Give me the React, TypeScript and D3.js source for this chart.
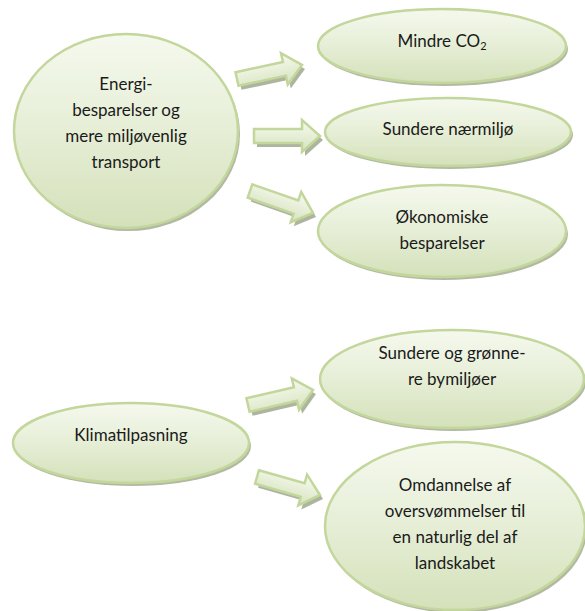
import React from "react";
import * as d3 from "d3";

// Node labels (lines of text)
const nodeLabels: string[][] = [
  ["Energi-", "besparelser og", "mere miljøvenlig", "transport"],
  ["Mindre CO|2"],
  ["Sundere nærmiljø"],
  ["Økonomiske", "besparelser"],
  ["Klimatilpasning"],
  ["Sundere og grønne-", "re bymiljøer"],
  ["Omdannelse af", "oversvømmelser til", "en naturlig del af", "landskabet"],
];

// Which node each arrow links from -> to
const arrowLinks: [number, number][] = [
  [0, 1],
  [0, 2],
  [0, 3],
  [4, 5],
  [4, 6],
];

// Layout (pixel geometry)
const nodeLayout = [
  { cx: 126, cy: 131, rx: 112, ry: 97, ty: 90 },
  { cx: 442, cy: 46, rx: 124, ry: 37, ty: 47 },
  { cx: 448, cy: 132, rx: 123, ry: 34, ty: 135 },
  { cx: 442, cy: 231, rx: 124, ry: 46, ty: 223 },
  { cx: 131, cy: 443, rx: 118, ry: 40, ty: 441 },
  { cx: 452, cy: 379, rx: 132, ry: 49, ty: 359 },
  { cx: 455, cy: 526, rx: 130, ry: 84, ty: 491 },
];
const arrowLayout = [
  { x0: 237, y0: 79, x1: 302, y1: 65 },
  { x0: 254, y0: 136, x1: 320, y1: 136 },
  { x0: 250, y0: 191, x1: 313, y1: 213 },
  { x0: 248, y0: 405, x1: 313, y1: 390 },
  { x0: 257, y0: 477, x1: 320, y1: 495 },
];

const LINE_H = 26;
const FONT_SIZE = 17;
const FONT = "Lato, 'Open Sans', sans-serif";

function arrowPath(len: number, sw: number, hw: number, hl: number): string {
  const p = d3.path();
  p.moveTo(0, -sw);
  p.lineTo(len - hl, -sw);
  p.lineTo(len - hl, -hw);
  p.lineTo(len, 0);
  p.lineTo(len - hl, hw);
  p.lineTo(len - hl, sw);
  p.lineTo(0, sw);
  p.closePath();
  return p.toString();
}

function Label({ text, x, y }: { text: string; x: number; y: number }) {
  if (text.includes("|")) {
    const [a, b] = text.split("|");
    return (
      <text x={x} y={y} textAnchor="middle" fontFamily={FONT} fontSize={FONT_SIZE} fill="#1a1a1a">
        {a}
        <tspan fontSize={11} dy={3}>{b}</tspan>
      </text>
    );
  }
  return (
    <text x={x} y={y} textAnchor="middle" fontFamily={FONT} fontSize={FONT_SIZE} fill="#1a1a1a">
      {text}
    </text>
  );
}

export default function App() {
  return (
    <svg
      width={585}
      height={611}
      style={{ position: "absolute", left: 0, top: 0, background: "#fff" }}
    >
      <defs>
        <linearGradient id="ellGrad" x1="0" y1="0" x2="0" y2="1">
          <stop offset="0" stopColor="#f5f9ee" />
          <stop offset="0.5" stopColor="#e6eed6" />
          <stop offset="1" stopColor="#d4e1ba" />
        </linearGradient>
        <linearGradient id="arrGrad" x1="0" y1="0" x2="0" y2="1">
          <stop offset="0" stopColor="#f7faf1" />
          <stop offset="1" stopColor="#d6e3bd" />
        </linearGradient>
      </defs>
      {arrowLinks.map((_, i) => {
        const a = arrowLayout[i];
        const len = Math.hypot(a.x1 - a.x0, a.y1 - a.y0);
        const ang = (Math.atan2(a.y1 - a.y0, a.x1 - a.x0) * 180) / Math.PI;
        const d = arrowPath(len, 7, 16, 18);
        return (
          <g key={"a" + i}>
            <g transform={`translate(${a.x0 + 3},${a.y0 + 4}) rotate(${ang})`}>
              <path d={d} fill="#a4ad93" opacity={0.9} />
            </g>
            <g transform={`translate(${a.x0},${a.y0}) rotate(${ang})`}>
              <path d={d} fill="url(#arrGrad)" stroke="#c3d69b" strokeWidth={2.5} strokeLinejoin="miter" />
            </g>
          </g>
        );
      })}
      {nodeLabels.map((lines, i) => {
        const n = nodeLayout[i];
        return (
          <g key={"n" + i}>
            <ellipse cx={n.cx + 2} cy={n.cy + 3} rx={n.rx} ry={n.ry} fill="#a4ad93" opacity={0.85} />
            <ellipse
              cx={n.cx}
              cy={n.cy}
              rx={n.rx}
              ry={n.ry}
              fill="url(#ellGrad)"
              stroke="#c3d69b"
              strokeWidth={2.5}
            />
            {lines.map((t, j) => (
              <Label key={j} text={t} x={n.cx} y={n.ty + j * LINE_H} />
            ))}
          </g>
        );
      })}
    </svg>
  );
}
